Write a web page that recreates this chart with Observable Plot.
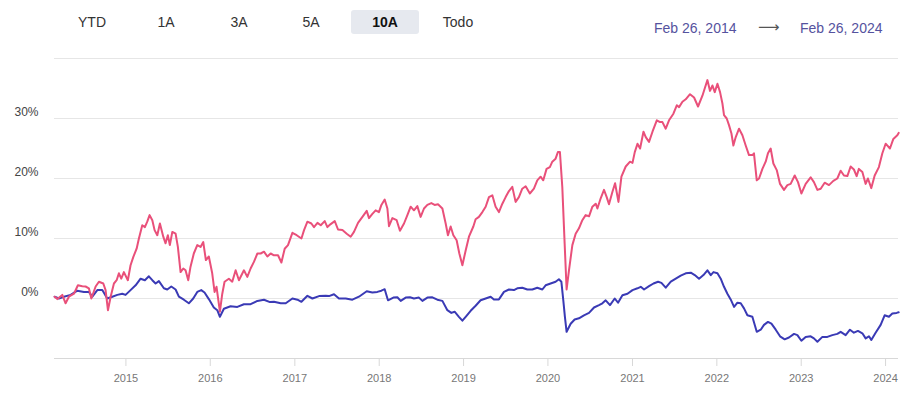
<!DOCTYPE html>
<html><head><meta charset="utf-8">
<script src="https://cdn.jsdelivr.net/npm/d3@7"></script>
<script src="https://cdn.jsdelivr.net/npm/@observablehq/plot@0.6"></script>
<style>
body{margin:0;background:#fff;font-family:"Liberation Sans",Arial,sans-serif;}
#wrap{width:917px;}
#head{position:relative;height:44px;}
.btn{position:absolute;top:10px;height:24px;line-height:24px;font-size:14px;color:#333;transform:translateX(-50%);white-space:nowrap;}
.btn.active{font-weight:bold;color:#111;background:#e6e9ef;border-radius:3px;width:68px;text-align:center;}
.date{position:absolute;top:20px;font-size:14px;line-height:16px;color:#55529e;white-space:nowrap;}
.arrow{position:absolute;top:19px;font-size:15px;line-height:16px;color:#555;font-family:"DejaVu Sans",sans-serif;}
</style>
</head><body>
<div id="wrap">
  <div id="head"></div>
  <div id="chart"></div>
</div>
<script>
// ---- data ----
const ranges = ["YTD", "1A", "3A", "5A", "10A", "Todo"];
const activeRange = "10A";
const startLabel = "Feb 26, 2014";
const endLabel = "Feb 26, 2024";
const startDate = "2014-02-26";
const endDate = "2024-02-26";
const yTicks = [0, 10, 20, 30];
const yGrid = [-10, 0, 10, 20, 30, 40];
const xTickYears = [2015, 2016, 2017, 2018, 2019, 2020, 2021, 2022, 2023, 2024];

// pink series (decimal year, % return)
const pinkT = [2014.155,2014.187,2014.246,2014.285,2014.324,2014.384,2014.431,2014.483,2014.522,2014.561,
2014.590,2014.641,2014.680,2014.732,2014.759,2014.787,2014.819,2014.858,2014.890,2014.917,
2014.945,2014.976,2015.023,2015.055,2015.087,2015.127,2015.154,2015.194,2015.225,2015.253,
2015.281,2015.313,2015.340,2015.372,2015.403,2015.443,2015.470,2015.497,2015.521,2015.550,
2015.589,2015.616,2015.648,2015.680,2015.707,2015.739,2015.766,2015.805,2015.846,2015.885,
2015.917,2015.948,2015.983,2016.023,2016.051,2016.074,2016.114,2016.142,2016.169,2016.220,
2016.260,2016.300,2016.339,2016.398,2016.438,2016.477,2016.516,2016.557,2016.596,2016.635,
2016.675,2016.714,2016.753,2016.801,2016.841,2016.880,2016.919,2016.971,2017.022,2017.078,
2017.109,2017.149,2017.196,2017.227,2017.268,2017.307,2017.354,2017.386,2017.425,2017.473,
2017.512,2017.564,2017.615,2017.662,2017.701,2017.749,2017.801,2017.852,2017.879,2017.919,
2017.958,2017.997,2018.026,2018.065,2018.097,2018.116,2018.156,2018.207,2018.246,2018.294,
2018.334,2018.373,2018.412,2018.452,2018.491,2018.531,2018.571,2018.618,2018.657,2018.697,
2018.749,2018.788,2018.815,2018.847,2018.879,2018.918,2018.950,2018.986,2019.025,2019.064,
2019.116,2019.143,2019.182,2019.223,2019.262,2019.301,2019.341,2019.380,2019.419,2019.460,
2019.499,2019.538,2019.578,2019.617,2019.656,2019.696,2019.736,2019.786,2019.834,2019.874,
2019.913,2019.945,2019.984,2020.023,2020.052,2020.091,2020.118,2020.142,2020.170,2020.198,
2020.221,2020.249,2020.289,2020.328,2020.367,2020.407,2020.446,2020.486,2020.526,2020.565,
2020.585,2020.624,2020.663,2020.695,2020.722,2020.763,2020.794,2020.834,2020.869,2020.920,
2020.971,2021.000,2021.027,2021.059,2021.090,2021.130,2021.157,2021.196,2021.237,2021.288,
2021.327,2021.355,2021.394,2021.433,2021.485,2021.525,2021.552,2021.592,2021.631,2021.682,
2021.730,2021.777,2021.829,2021.856,2021.888,2021.919,2021.948,2021.975,2022.007,2022.038,
2022.066,2022.085,2022.117,2022.144,2022.173,2022.196,2022.224,2022.263,2022.303,2022.342,
2022.381,2022.421,2022.440,2022.473,2022.500,2022.540,2022.579,2022.606,2022.638,2022.670,
2022.710,2022.749,2022.796,2022.836,2022.875,2022.923,2022.962,2023.002,2023.053,2023.112,
2023.151,2023.192,2023.231,2023.278,2023.329,2023.381,2023.428,2023.468,2023.507,2023.547,
2023.586,2023.625,2023.657,2023.684,2023.725,2023.764,2023.791,2023.831,2023.871,2023.921,
2023.962,2024.001,2024.052,2024.092,2024.139,2024.155];
const pinkV = [0.3,-0.1,0.6,-0.8,0.3,0.8,2.2,2.05,2.0,1.7,
0.0,2.0,2.8,2.5,1.4,-1.95,0.3,2.5,3.05,4.2,
3.3,4.4,3.05,5.55,6.9,8.3,10.0,12.2,11.9,12.8,
13.9,13.05,11.4,10.55,12.5,10.3,9.2,10.55,8.9,11.1,
10.8,8.6,4.4,5.0,4.7,3.05,5.3,7.5,8.9,8.6,
9.4,6.4,7.0,4.2,1.1,1.95,-2.2,0.8,2.8,3.3,
2.8,4.7,3.05,4.7,3.6,5.0,6.1,7.5,7.5,7.8,
7.0,7.5,7.2,7.2,6.0,8.3,8.9,10.95,10.55,10.0,
11.4,12.8,12.5,11.9,12.6,12.2,12.9,11.9,12.4,12.9,
11.5,11.4,10.8,10.3,11.1,12.6,13.6,14.6,13.4,14.1,
14.7,14.4,15.6,16.5,15.0,12.05,13.4,13.05,11.3,12.5,
13.9,15.3,14.7,15.4,13.6,15.0,15.6,15.9,15.6,15.7,
15.0,12.5,10.55,12.0,10.55,9.7,7.5,5.55,8.0,10.3,
12.0,13.2,13.6,14.4,15.3,16.9,17.2,15.3,14.4,15.8,
16.9,17.9,18.6,16.1,16.9,18.3,18.7,17.5,18.3,19.7,
20.3,19.7,21.6,21.9,22.8,23.3,24.4,24.4,18.6,9.1,
1.5,4.7,8.9,10.8,11.7,13.05,13.9,13.7,15.3,15.8,
15.0,16.7,18.1,16.9,15.7,17.8,19.2,16.1,20.3,22.0,
22.8,22.6,24.4,25.8,25.0,27.8,26.9,26.1,27.8,29.7,
29.4,29.4,28.3,29.7,30.8,32.2,31.9,32.8,33.2,34.05,
33.5,32.0,33.8,35.0,36.4,34.6,35.5,34.4,35.8,34.4,
32.5,30.55,30.0,28.9,27.5,25.5,26.9,28.3,27.2,25.5,
23.9,23.9,24.2,19.7,20.0,21.6,22.8,24.2,25.0,22.5,
21.4,19.1,18.1,18.9,19.1,20.5,19.4,17.5,19.1,20.2,
19.4,18.1,18.3,19.3,18.9,19.6,20.0,21.3,20.5,20.4,
22.0,21.5,20.4,21.6,21.1,19.1,20.0,18.4,20.5,21.9,
24.2,25.8,25.0,26.6,27.2,27.6];

// blue series (decimal year, % return)
const blueT = [2014.155,2014.206,2014.265,2014.345,2014.424,2014.502,2014.561,2014.602,2014.661,2014.720,
2014.779,2014.839,2014.898,2014.957,2014.996,2015.055,2015.115,2015.174,2015.225,2015.272,
2015.313,2015.352,2015.391,2015.450,2015.490,2015.538,2015.589,2015.628,2015.687,2015.746,
2015.798,2015.846,2015.893,2015.932,2015.983,2016.042,2016.083,2016.114,2016.161,2016.240,
2016.320,2016.398,2016.477,2016.557,2016.635,2016.706,2016.753,2016.833,2016.892,2016.971,
2017.031,2017.078,2017.149,2017.208,2017.287,2017.366,2017.405,2017.464,2017.523,2017.603,
2017.682,2017.760,2017.852,2017.919,2017.978,2018.026,2018.065,2018.104,2018.168,2018.215,
2018.255,2018.314,2018.365,2018.412,2018.471,2018.512,2018.571,2018.630,2018.689,2018.749,
2018.808,2018.855,2018.894,2018.945,2018.986,2019.025,2019.084,2019.143,2019.202,2019.262,
2019.321,2019.360,2019.419,2019.479,2019.538,2019.597,2019.637,2019.696,2019.756,2019.815,
2019.874,2019.934,2019.973,2020.032,2020.091,2020.130,2020.159,2020.182,2020.201,2020.221,
2020.269,2020.316,2020.367,2020.426,2020.486,2020.545,2020.604,2020.644,2020.683,2020.734,
2020.790,2020.829,2020.881,2020.941,2021.000,2021.059,2021.098,2021.137,2021.196,2021.249,
2021.303,2021.343,2021.394,2021.454,2021.513,2021.572,2021.631,2021.691,2021.738,2021.789,
2021.841,2021.888,2021.928,2021.960,2022.007,2022.046,2022.085,2022.125,2022.164,2022.204,
2022.244,2022.283,2022.322,2022.362,2022.421,2022.473,2022.520,2022.559,2022.606,2022.647,
2022.698,2022.749,2022.804,2022.855,2022.915,2022.955,2023.002,2023.053,2023.112,2023.151,
2023.192,2023.251,2023.310,2023.369,2023.428,2023.468,2023.527,2023.578,2023.625,2023.673,
2023.725,2023.764,2023.803,2023.831,2023.882,2023.942,2023.989,2024.040,2024.080,2024.131,
2024.155];
const blueV = [0.3,0.0,0.3,0.6,1.3,1.1,1.1,0.3,1.4,1.4,
0.0,0.3,0.6,0.8,0.6,1.4,2.2,3.3,3.05,3.7,
3.05,2.5,2.9,1.7,1.5,2.0,1.5,0.3,-0.2,-0.8,
0.0,1.1,1.4,1.0,-0.1,-1.5,-1.95,-3.05,-1.7,-1.3,
-1.4,-0.95,-0.95,-0.4,-0.2,-0.6,-0.55,-0.8,-0.8,0.0,
-0.2,-0.55,0.45,0.0,0.4,0.45,0.4,0.7,0.0,0.0,
-0.2,0.3,1.2,1.0,1.1,1.3,1.55,-0.3,0.15,0.2,
-0.4,0.15,0.2,0.0,0.15,-0.4,0.15,0.2,-0.2,-0.4,
-1.95,-2.4,-2.2,-3.05,-3.7,-3.05,-2.05,-1.2,-0.3,0.0,
0.3,-0.15,-0.15,1.1,1.5,1.4,1.7,1.8,1.5,1.5,
1.8,1.5,2.2,2.5,2.8,3.2,2.8,-0.3,-3.05,-5.55,
-4.2,-3.5,-3.3,-2.8,-2.4,-1.5,-1.1,-0.8,-0.3,-1.1,
0.0,-0.7,0.55,0.8,1.4,1.7,1.95,1.5,2.05,2.5,
2.8,2.6,1.8,2.8,3.3,3.8,4.2,4.3,3.9,3.3,
3.9,4.7,3.9,4.4,4.2,3.3,1.95,0.8,-0.15,-1.4,
-0.7,-0.8,-1.65,-2.8,-3.05,-5.55,-5.2,-4.4,-3.9,-4.2,
-5.2,-6.3,-6.8,-6.5,-5.9,-6.1,-7.05,-6.4,-6.3,-6.65,
-7.2,-6.4,-6.4,-6.1,-5.9,-5.55,-6.1,-5.2,-5.7,-5.4,
-5.8,-6.65,-6.3,-6.9,-5.7,-4.4,-2.8,-3.05,-2.5,-2.4,
-2.3];

const pinkColor = "#e9507a";
const blueColor = "#3a3ab5";

// ---- helpers ----
function fromDecimal(t) {
  const y = Math.floor(t);
  const a = Date.UTC(y, 0, 1), b = Date.UTC(y + 1, 0, 1);
  return new Date(a + (t - y) * (b - a));
}
const pinkData = pinkT.map((t, i) => ({date: fromDecimal(t), value: pinkV[i]}));
const blueData = blueT.map((t, i) => ({date: fromDecimal(t), value: blueV[i]}));
const xTicks = xTickYears.map(y => new Date(Date.UTC(y, 0, 1)));

// ---- header ----
const head = document.getElementById("head");
const btnCenters = [92, 166, 239, 311, 385, 458];
ranges.forEach((r, i) => {
  const s = document.createElement("span");
  s.className = "btn" + (r === activeRange ? " active" : "");
  s.style.left = btnCenters[i] + "px";
  s.textContent = r;
  head.appendChild(s);
});
const d1 = document.createElement("span"); d1.className = "date"; d1.style.left = "654px"; d1.textContent = startLabel; head.appendChild(d1);
const ar = document.createElement("span"); ar.className = "arrow"; ar.style.left = "758px"; ar.textContent = "\u27F6"; head.appendChild(ar);
const d2 = document.createElement("span"); d2.className = "date"; d2.style.left = "800px"; d2.textContent = endLabel; head.appendChild(d2);

// ---- chart ----
const chart = Plot.plot({
  width: 917,
  height: 349,
  marginLeft: 54,
  marginRight: 19,
  marginTop: 14,
  marginBottom: 35,
  style: {fontFamily: "'Liberation Sans', Arial, sans-serif", background: "#fff"},
  x: {type: "utc", domain: [new Date(startDate), new Date(endDate)], label: null},
  y: {domain: [-10, 40], label: null},
  marks: [
    Plot.ruleY(yGrid, {stroke: "#e6e6e6", strokeWidth: 1}),
    Plot.ruleY([-10], {stroke: "#d8d8d8", strokeWidth: 1}),
    Plot.axisY(yTicks, {tickSize: 0, tickPadding: 16, tickFormat: d => d + "%", fontSize: 12, color: "#444", dy: -6}),
    Plot.axisX(xTicks, {tickSize: 8, tickFormat: () => "", color: "#d8d8d8"}),
    Plot.axisX(xTicks, {tickSize: 0, tickPadding: 16, tickFormat: d => String(d.getUTCFullYear()), fontSize: 11, color: "#777"}),
    Plot.line(blueData, {x: "date", y: "value", stroke: blueColor, strokeWidth: 2}),
    Plot.line(pinkData, {x: "date", y: "value", stroke: pinkColor, strokeWidth: 2})
  ]
});
document.getElementById("chart").appendChild(chart);
</script>
</body></html>
